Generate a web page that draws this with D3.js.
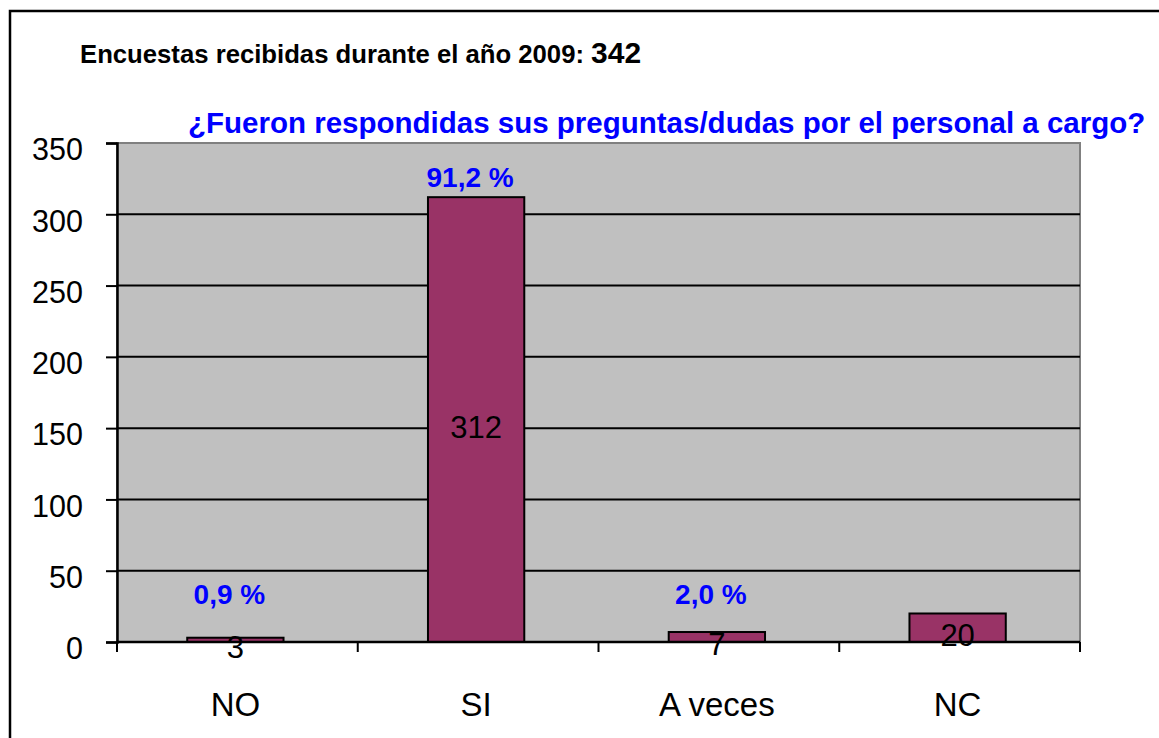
<!DOCTYPE html>
<html>
<head>
<meta charset="utf-8">
<script src="https://cdn.jsdelivr.net/npm/d3@7"></script>
<style>
  body { margin: 0; background: #fff; }
  text { font-family: "Liberation Sans", Arial, sans-serif; }
</style>
</head>
<body>
<svg width="1159" height="738"></svg>
<script>
// data
const categories = ["NO", "SI", "A veces", "NC"];
const counts = [3, 312, 7, 20];
const percentLabels = ["0,9 %", "91,2 %", "2,0 %", null];
// vertical spot of each percent label, in data units
const percentAt = [34, 326, 34, null];
const yTicks = [0, 50, 100, 150, 200, 250, 300, 350];
const total = 342;

let svg = d3.select("svg");
let margin = {left: 117, top: 143, right: 1080, bottom: 642};

// outer frame, runs past the right and bottom edge
svg.append("rect")
  .attr("x", 10).attr("y", 11)
  .attr("width", 1170).attr("height", 760)
  .attr("fill", "none")
  .attr("stroke", "#000")
  .attr("stroke-width", 2.5);

let x = d3.scaleBand()
  .domain(categories)
  .range([margin.left, margin.right])
  .paddingInner(0).paddingOuter(0);
let y = d3.scaleLinear()
  .domain([0, 350])
  .range([margin.bottom, margin.top]);

// plot area
svg.append("rect")
  .attr("x", margin.left).attr("y", margin.top)
  .attr("width", margin.right - margin.left)
  .attr("height", margin.bottom - margin.top)
  .attr("fill", "#c0c0c0")
  .attr("stroke", "#808080")
  .attr("stroke-width", 2);

// gridlines
svg.append("g")
  .selectAll("line")
  .data(yTicks.filter(d => d > 0 && d < 350))
  .enter().append("line")
  .attr("x1", margin.left).attr("x2", margin.right)
  .attr("y1", d => y(d)).attr("y2", d => y(d))
  .attr("stroke", "#000")
  .attr("stroke-width", 2);

// y axis
let yAxis = svg.append("g")
  .attr("transform", "translate(" + margin.left + ",0)")
  .call(d3.axisLeft(y).tickValues(yTicks).tickSize(11).tickPadding(23));
yAxis.select(".domain").attr("stroke", "#000").attr("stroke-width", 2.5);
yAxis.selectAll(".tick line").attr("stroke", "#000").attr("stroke-width", 2);
yAxis.selectAll(".tick text")
  .attr("font-size", 30.5)
  .attr("dy", "0.55em")
  .attr("font-family", "Liberation Sans, Arial, sans-serif")
  .attr("fill", "#000");

// bars
let barW = x.bandwidth() * 0.4;
svg.append("g")
  .selectAll("rect")
  .data(categories)
  .enter().append("rect")
  .attr("x", (d, i) => x(d) + x.bandwidth() / 2 - barW / 2 - 2)
  .attr("y", (d, i) => y(counts[i]))
  .attr("width", barW)
  .attr("height", (d, i) => y(0) - y(counts[i]))
  .attr("fill", "#993366")
  .attr("stroke", "#000")
  .attr("stroke-width", 2);

// x axis drawn after bars
svg.append("line")
  .attr("x1", margin.left).attr("x2", margin.right)
  .attr("y1", y(0)).attr("y2", y(0))
  .attr("stroke", "#000").attr("stroke-width", 2.5);
let bounds = categories.map(d => x(d)).concat([margin.right]);
svg.append("g")
  .selectAll("line")
  .data(bounds)
  .enter().append("line")
  .attr("x1", d => d).attr("x2", d => d)
  .attr("y1", y(0)).attr("y2", y(0) + 10)
  .attr("stroke", "#000").attr("stroke-width", 2);

svg.append("g")
  .selectAll("text")
  .data(categories)
  .enter().append("text")
  .attr("x", d => x(d) + x.bandwidth() / 2 - 2)
  .attr("y", 716)
  .attr("text-anchor", "middle")
  .attr("font-size", 33)
  .text(d => d);

// value labels, centred in the bars
svg.append("g")
  .selectAll("text")
  .data(categories)
  .enter().append("text")
  .attr("x", d => x(d) + x.bandwidth() / 2 - 2)
  .attr("y", (d, i) => y(counts[i] / 2) + 7)
  .attr("dy", "0.36em")
  .attr("text-anchor", "middle")
  .attr("font-size", 31)
  .text((d, i) => counts[i]);

// percent labels
svg.append("g")
  .selectAll("text")
  .data(categories.filter((d, i) => percentLabels[i]))
  .enter().append("text")
  .attr("x", d => x(d) + x.bandwidth() / 2 - 8)
  .attr("y", d => y(percentAt[categories.indexOf(d)]))
  .attr("dy", "0.36em")
  .attr("text-anchor", "middle")
  .attr("font-size", 28)
  .attr("font-weight", "bold")
  .attr("fill", "#0000ff")
  .text(d => percentLabels[categories.indexOf(d)]);

// titles
let t1 = svg.append("text")
  .attr("x", 80).attr("y", 63)
  .attr("font-weight", "bold")
  .attr("fill", "#000");
t1.append("tspan").attr("font-size", 25.7).text("Encuestas recibidas durante el año 2009: ");
t1.append("tspan").attr("font-size", 30).text(total);

svg.append("text")
  .attr("x", 188).attr("y", 133)
  .attr("font-size", 29.5)
  .attr("font-weight", "bold")
  .attr("fill", "#0000ff")
  .text("¿Fueron respondidas sus preguntas/dudas por el personal a cargo?");
</script>
</body>
</html>
